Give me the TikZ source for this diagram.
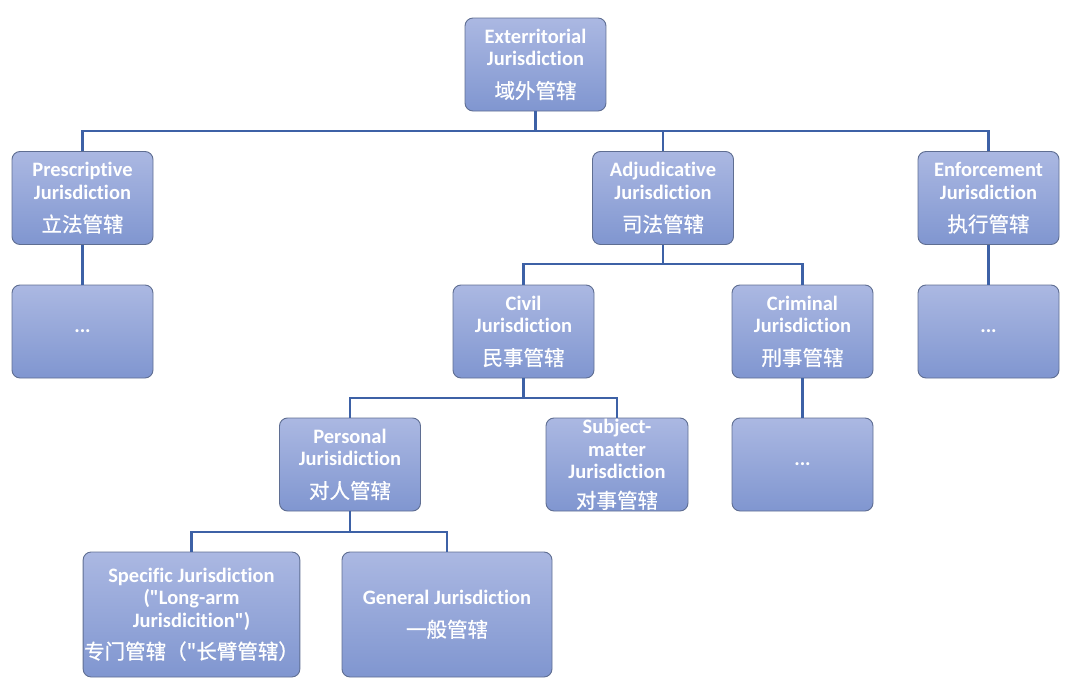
\documentclass[tikz,border=0pt]{standalone}
\usepackage{fontspec}
\setmainfont{Carlito}[BoldFont={Carlito Bold}, Ligatures={NoCommon,TeXOff}]
\newfontfamily\cjk{Noto Sans CJK SC}[FakeBold=0.7]
\definecolor{boxtop}{HTML}{ABB8E2}
\definecolor{boxbot}{HTML}{8096D0}
\definecolor{boxedge}{HTML}{5F6E92}
\definecolor{linkc}{HTML}{3D61A6}
\tikzset{
  box/.style={rectangle, rounded corners=8pt, draw=boxedge, line width=0.9pt,
    top color=boxtop, bottom color=boxbot, text=white,
    font=\bfseries\fontsize{20.5}{22.5}\selectfont, align=center,
    minimum width=141pt, minimum height=93pt, inner sep=1pt},
  wide/.style={minimum width=211pt, minimum height=125pt},
  link/.style={draw=linkc, line width=2.6pt}
}
\newcommand{\zhtext}[1]{{\cjk\mdseries\fontsize{20.5}{22}\selectfont #1}}
\begin{document}
\begin{tikzpicture}[x=1pt,y=-1pt]
\useasboundingbox (0,0) rectangle (1080,696);
\coordinate (bus1) at (0,131);
\coordinate (bus2) at (0,264);
\coordinate (bus3) at (0,398);
\coordinate (bus4) at (0,532);
\node[box] (ext) at (535.5,64.5) {Exterritorial\\Jurisdiction\\[10pt]\zhtext{域外管辖}};
\node[box] (pre) at (82.5,198) {Prescriptive\\Jurisdiction\\[10pt]\zhtext{立法管辖}};
\node[box] (adj) at (663,198) {Adjudicative\\Jurisdiction\\[10pt]\zhtext{司法管辖}};
\node[box] (enf) at (988.5,198) {Enforcement\\Jurisdiction\\[10pt]\zhtext{执行管辖}};
\node[box] (pdots) at (82.5,331.5) {...};
\node[box] (edots) at (988.5,331.5) {...};
\node[box] (civ) at (523.5,331.5) {Civil\\Jurisdiction\\[10pt]\zhtext{民事管辖}};
\node[box] (cri) at (802.5,331.5) {Criminal\\Jurisdiction\\[10pt]\zhtext{刑事管辖}};
\node[box] (cdots) at (802.5,464.5) {...};
\node[box] (per) at (350,464.5) {Personal\\Jurisidiction\\[10pt]\zhtext{对人管辖}};
\node[box, minimum width=142pt] (sub) at (617,464.5) {Subject-\\matter\\Jurisdiction\\[7pt]\zhtext{对事管辖}};
\node[box, wide] (spe) at (191.5,614.5) {Specific Jurisdiction\\("Long-arm\\Jurisdicition")\\[9pt]\zhtext{专门管辖（"长臂管辖）}};
\node[box, wide, minimum width=210pt] (gen) at (447,614.5) {General Jurisdiction\\[10pt]\zhtext{一般管辖}};
% connectors
\draw[link] (ext.south) -- (ext.south |- bus1);
\draw[link] (pre.north) |- (enf.north |- bus1) -- (enf.north);
\draw[link] (adj.north) -- (adj.north |- bus1);
\draw[link] (pre.south) -- (pdots.north);
\draw[link] (enf.south) -- (edots.north);
\draw[link] (adj.south) -- (adj.south |- bus2);
\draw[link] (civ.north) |- (cri.north |- bus2) -- (cri.north);
\draw[link] (cri.south) -- (cdots.north);
\draw[link] (civ.south) -- (civ.south |- bus3);
\draw[link] (per.north) |- (sub.north |- bus3) -- (sub.north);
\draw[link] (per.south) -- (per.south |- bus4);
\draw[link] (spe.north) |- (gen.north |- bus4) -- (gen.north);
\end{tikzpicture}
\end{document}
